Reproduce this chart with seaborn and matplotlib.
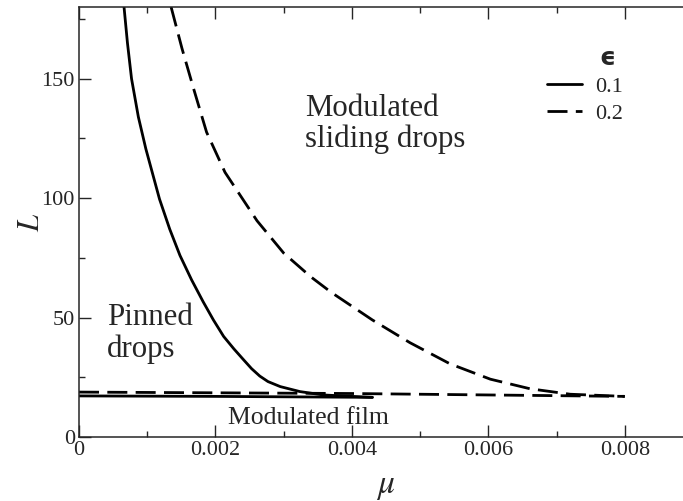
import pandas as pd
import seaborn as sns
import matplotlib.pyplot as plt
from matplotlib.lines import Line2D

# values
mu_pin_01 = [0.00066, 0.00071, 0.00077, 0.00087, 0.00098, 0.00118, 0.00133, 0.00148, 0.00165, 0.00182,
             0.00197, 0.00212, 0.00227, 0.00241, 0.00253, 0.00265, 0.00277, 0.00295, 0.00324, 0.00358,
             0.0040, 0.0043]
L_pin_01 = [180, 165, 150, 134, 120.6, 99.6, 87, 76, 65.8, 56.6,
            49, 42.1, 36.9, 32.4, 28.6, 25.5, 23.2, 21.1, 19.0, 17.6,
            17.0, 16.6]
mu_film_01 = [0.0, 0.002, 0.0043]
L_film_01 = [17.2, 17.0, 16.6]

mu_pin_02 = [0.00135, 0.00151, 0.00168, 0.00187, 0.00214, 0.00261, 0.0030, 0.0034, 0.0037, 0.0043,
             0.00485, 0.00544, 0.00603, 0.00661, 0.0072, 0.0080]
L_pin_02 = [180, 162.6, 145.8, 127.6, 110.8, 90.5, 77, 67, 60.5, 49,
            39.5, 30.6, 24.2, 20.2, 17.9, 17.0]
mu_film_02 = [0.0, 0.004, 0.008]
L_film_02 = [18.8, 18.2, 17.0]

eps_labels = ['0.1', '0.2']

sns.set_style('ticks')
plt.rcParams['font.family'] = ['Liberation Serif', 'DejaVu Sans']
plt.rcParams['mathtext.fontset'] = 'stix'

fig = plt.figure(figsize=(6.83, 5.01), dpi=100)
ax = fig.add_axes([79 / 683, 64 / 501, 614 / 683, 430 / 501])

dash = (0, (7.2, 3.0))
segments = [
    (mu_pin_01, L_pin_01, '-'),
    (mu_film_01, L_film_01, '-'),
    (mu_pin_02, L_pin_02, dash),
    (mu_film_02, L_film_02, dash),
]
for xs, ys, ls in segments:
    df = pd.DataFrame({'mu': xs, 'L': ys})
    sns.lineplot(data=df, x='mu', y='L', ax=ax, color='black', lw=2.0,
                 linestyle=ls, sort=False, estimator=None)

ax.set_xlim(0, 0.009)
ax.set_ylim(0, 180)
ax.set_xticks([0, 0.002, 0.004, 0.006, 0.008])
ax.set_xticklabels(['0', '0.002', '0.004', '0.006', '0.008'])
ax.set_xticks([0.001, 0.003, 0.005, 0.007], minor=True)
ax.set_yticks([0, 50, 100, 150])
ax.set_yticks([25, 75, 125, 175], minor=True)
ax.tick_params(which='both', direction='in', top=True, right=False,
               labelsize=16, width=1.0)
ax.tick_params(which='major', length=8.5, pad=3)
ax.tick_params(which='minor', length=4)
for s in ax.spines.values():
    s.set_linewidth(1.1)

ax.set_xlabel(r'$\mu$', fontsize=24, labelpad=8)
ax.set_ylabel(r'$L$', fontsize=22, labelpad=-3)

ax.text(0.00331, 121.5, 'Modulated\nsliding drops', fontsize=22.2, linespacing=1.05)
ax.text(0.000415, 33.6, 'Pinned\ndrops', fontsize=22.2, linespacing=1.1)
ax.text(0.00218, 5.5, 'Modulated film', fontsize=18.5)

handles = [Line2D([], [], color='black', lw=2.0, linestyle='-'),
           Line2D([], [], color='black', lw=2.0, linestyle=dash)]
ax.legend(handles, eps_labels, loc='upper left',
          bbox_to_anchor=(0.763, 0.838), frameon=False, fontsize=16,
          handlelength=1.55, handletextpad=0.6, labelspacing=0.285,
          borderaxespad=0, borderpad=0)
ax.text(0.00774, 158.8, '\u03f5', fontsize=18, fontweight='bold',
        family='DejaVu Sans', ha='center', va='center')

fig.savefig('out.png', dpi=100)
